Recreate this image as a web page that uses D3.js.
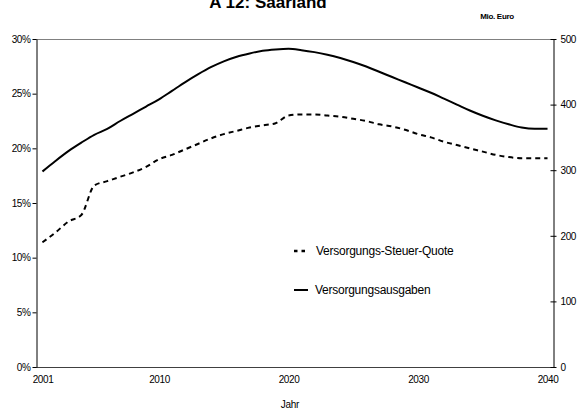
<!DOCTYPE html>
<html><head><meta charset="utf-8">
<script src="https://cdn.jsdelivr.net/npm/d3@7"></script>
<style>body{margin:0;background:#fff;} text{font-family:Arial,"Liberation Sans",sans-serif;}</style>
</head><body>
<svg id="chart" width="580" height="410"></svg>
<script>
const years = d3.range(2001, 2041);
const quote = [11.4,12.3,13.3,13.9,16.6,17.0,17.4,17.8,18.3,19.0,
  19.4,19.9,20.4,20.9,21.3,21.6,21.9,22.1,22.3,23.0,
  23.1,23.1,23.0,22.9,22.7,22.5,22.2,22.0,21.7,21.3,
  21.0,20.6,20.3,20.0,19.7,19.4,19.2,19.1,19.1,19.1];
const ausgaben = [298,314,329,342,354,363,375,386,397,408,
  421,434,446,457,466,473,478,482,484,485,
  483,480,476,471,465,458,450,442,434,426,
  418,409,400,391,383,376,370,365,363,363];
const xTickYears = [2001,2010,2020,2030,2040];
const leftTicks = [0,0.05,0.10,0.15,0.20,0.25,0.30];
const rightTicks = [0,100,200,300,400,500];
const seriesNames = ["Versorgungs-Steuer-Quote","Versorgungsausgaben"];

const L=36, R=554, T=39, B=367;
const svg = d3.select("#chart");
const x = d3.scalePoint().domain(years).range([L,R]).padding(0.5);
const yL = d3.scaleLinear().domain([0,0.30]).range([B,T]);
const yR = d3.scaleLinear().domain([0,500]).range([B,T]);

// title
svg.append("text").attr("x",268).attr("y",7.5).attr("text-anchor","middle")
  .attr("font-size",17).attr("font-weight","bold").text("A 12: Saarland");
svg.append("text").attr("x",497).attr("y",19).attr("text-anchor","middle")
  .attr("font-size",8).attr("font-weight","bold").attr("letter-spacing","-0.3").text("Mio. Euro");

// top border
svg.append("line").attr("x1",L).attr("x2",R).attr("y1",T+0.5).attr("y2",T+0.5)
  .attr("stroke","#808080").attr("stroke-width",1);

// bottom axis
const xAxis = d3.axisBottom(x).tickValues(xTickYears).tickSize(0).tickPadding(9);
const gx = svg.append("g").attr("transform",`translate(0,${B})`).call(xAxis);
gx.select(".domain").attr("stroke","#404040").attr("d",`M${L},0.5H${R}`);
gx.selectAll("text").attr("font-size",10).attr("fill","#000").attr("letter-spacing","-0.4")
  .attr("font-family","Arial, 'Liberation Sans', sans-serif");

// left axis
const gl = svg.append("g").attr("transform",`translate(${L+0.5},0)`)
  .call(d3.axisLeft(yL).tickValues(leftTicks).tickFormat(d3.format(".0%")).tickSize(4).tickSizeOuter(0).tickPadding(2));
gl.select(".domain").attr("stroke","#000");
gl.selectAll(".tick line").attr("stroke","#000");
gl.selectAll("text").attr("font-size",10).attr("fill","#000").attr("letter-spacing","-0.4")
  .attr("font-family","Arial, 'Liberation Sans', sans-serif");

// right axis
const gr = svg.append("g").attr("transform",`translate(${R-0.5},0)`)
  .call(d3.axisRight(yR).tickValues(rightTicks).tickSize(3).tickSizeOuter(0).tickPadding(4));
gr.select(".domain").attr("stroke","#000");
gr.selectAll(".tick line").attr("stroke","#000").attr("x1",-3);
gr.selectAll("text").attr("font-size",10).attr("fill","#000").attr("letter-spacing","-0.4")
  .attr("font-family","Arial, 'Liberation Sans', sans-serif");

// x label
svg.append("text").attr("x",290).attr("y",408).attr("text-anchor","middle")
  .attr("font-size",10).attr("letter-spacing","-0.3").text("Jahr");

// lines
const lineQ = d3.line().x((d,i)=>x(years[i])).y(d=>yL(d/100)).curve(d3.curveMonotoneX);
const lineA = d3.line().x((d,i)=>x(years[i])).y(d=>yR(d)).curve(d3.curveMonotoneX);
svg.append("path").datum(quote).attr("d",lineQ).attr("fill","none")
  .attr("stroke","#000").attr("stroke-width",2).attr("stroke-dasharray","5,4");
svg.append("path").datum(ausgaben).attr("d",lineA).attr("fill","none")
  .attr("stroke","#000").attr("stroke-width",2);

// legend
const lg = svg.append("g");
lg.append("line").attr("x1",294).attr("x2",308).attr("y1",251).attr("y2",251)
  .attr("stroke","#000").attr("stroke-width",2.5).attr("stroke-dasharray","3.5,4");
lg.append("text").attr("x",316).attr("y",255).attr("font-size",12).attr("letter-spacing","-0.25")
  .text(seriesNames[0]);
lg.append("line").attr("x1",294).attr("x2",308).attr("y1",290).attr("y2",290)
  .attr("stroke","#000").attr("stroke-width",2);
lg.append("text").attr("x",315).attr("y",294).attr("font-size",12).attr("letter-spacing","-0.25")
  .text(seriesNames[1]);
</script>
</body></html>
